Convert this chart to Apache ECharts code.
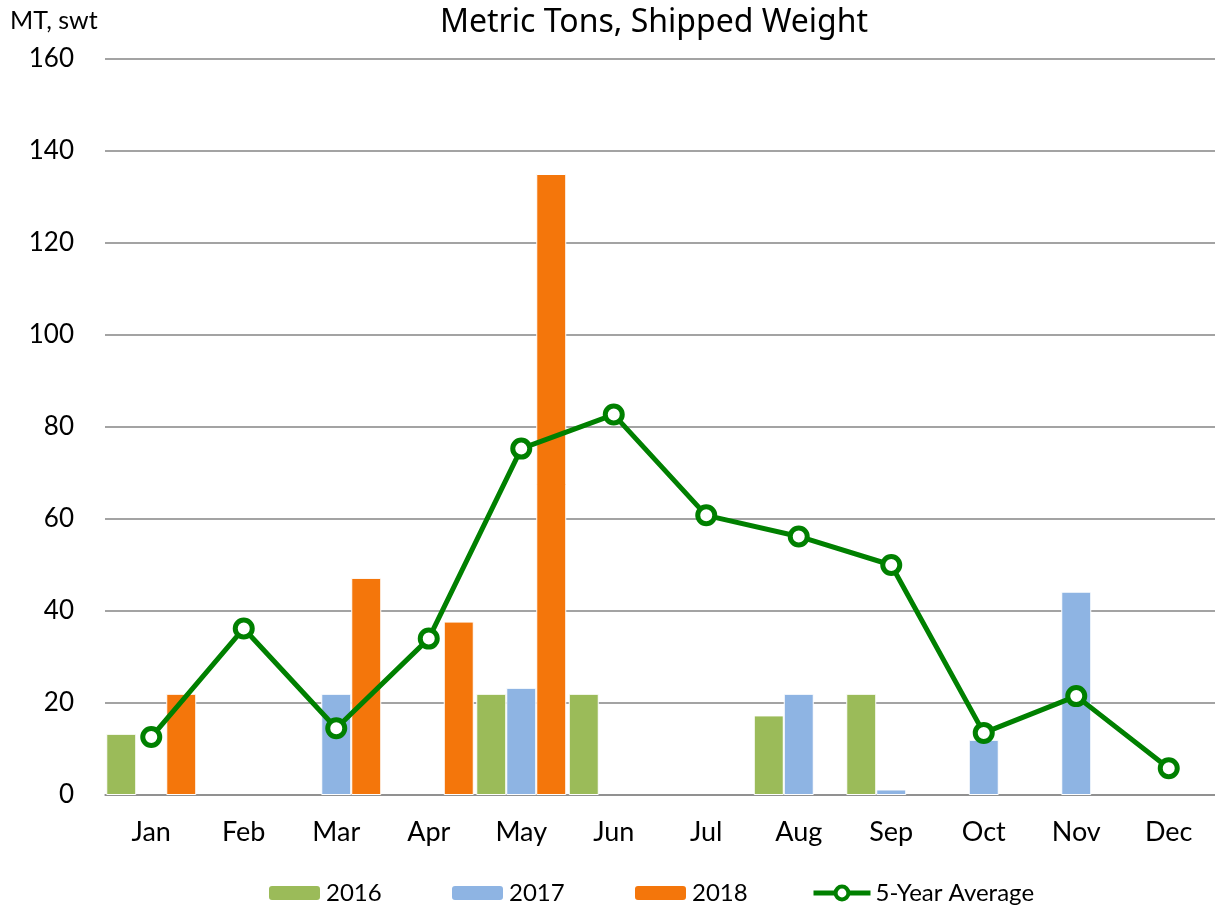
<!DOCTYPE html>
<html><head><meta charset="utf-8">
<script src="https://cdn.jsdelivr.net/npm/echarts@6/dist/echarts.min.js"></script>
<style>html,body{margin:0;padding:0;background:#fff}#c{width:1215px;height:909px}</style>
</head><body><div id="c"></div>
<script>
const months = ['Jan','Feb','Mar','Apr','May','Jun','Jul','Aug','Sep','Oct','Nov','Dec'];
const y2016 = [13.3, null, null, null, 22, 22, null, 17.3, 22, null, null, null];
const y2017 = [null, null, 22, null, 23.3, null, null, 22, 1.2, 12, 44.2, null];
const y2018 = [22, null, 47.2, 37.7, 135, null, null, null, null, null, null, null];
const avg5 = [12.6, 36.2, 14.5, 34, 75.3, 82.7, 60.8, 56.2, 50, 13.5, 21.5, 5.8];

const font = 'Lato, "Liberation Sans", sans-serif';
const chart = echarts.init(document.getElementById('c'));
const legendBase = {top: 881, padding: 0, itemWidth: 53, itemHeight: 16, textStyle: {fontFamily: font, fontSize: 24, color: '#000'}, itemGap: 0, selectedMode: false};
chart.setOption({
  animation: false,
  title: {text: 'Metric Tons, Shipped Weight', left: 435, top: 2, textStyle: {fontFamily: '"Noto Sans", sans-serif', fontWeight: 'normal', fontSize: 32, color: '#000'}},
  grid: {left: 105, top: 59, width: 1113, height: 736, containLabel: false},
  legend: [
    Object.assign({}, legendBase, {left: 267, data: ['2016']}),
    Object.assign({}, legendBase, {left: 450, data: ['2017']}),
    Object.assign({}, legendBase, {left: 633, data: ['2018']}),
    Object.assign({}, legendBase, {left: 811, itemWidth: 57, data: ['5-Year Average'],
      lineStyle: {width: 5}, itemStyle: {borderWidth: 4}})
  ],
  xAxis: {type: 'category', data: months,
    axisLine: {lineStyle: {color: '#8c8c8c', width: 1.5}},
    axisTick: {length: 8, lineStyle: {color: '#8c8c8c', width: 1.5}},
    axisLabel: {fontFamily: font, fontSize: 27, color: '#000', margin: 24}},
  yAxis: {type: 'value', min: 0, max: 160, interval: 20,
    name: 'MT, swt', nameLocation: 'end', nameGap: 0,
    nameTextStyle: {fontFamily: font, fontSize: 25, color: '#000', align: 'left', padding: [0, 0, 26, -95]},
    axisLine: {show: false}, axisTick: {show: false},
    axisLabel: {fontFamily: font, fontSize: 26, color: '#000', margin: 31},
    splitLine: {lineStyle: {color: '#a3a3a3', width: 1.8}}},
  series: [
    {name: '2016', type: 'bar', data: y2016, barWidth: 30, barGap: '0%', itemStyle: {color: '#9BBB59', borderColor: '#fff', borderWidth: 1}},
    {name: '2017', type: 'bar', data: y2017, barWidth: 30, barGap: '0%', itemStyle: {color: '#8EB4E3', borderColor: '#fff', borderWidth: 1}},
    {name: '2018', type: 'bar', data: y2018, barWidth: 30, barGap: '0%', itemStyle: {color: '#F4760B', borderColor: '#fff', borderWidth: 1}},
    {name: '5-Year Average', type: 'line', data: avg5, symbol: 'circle', symbolSize: 17,
      lineStyle: {color: '#008000', width: 5},
      itemStyle: {color: '#fff', borderColor: '#008000', borderWidth: 5}, z: 5}
  ]
});
</script></body></html>
